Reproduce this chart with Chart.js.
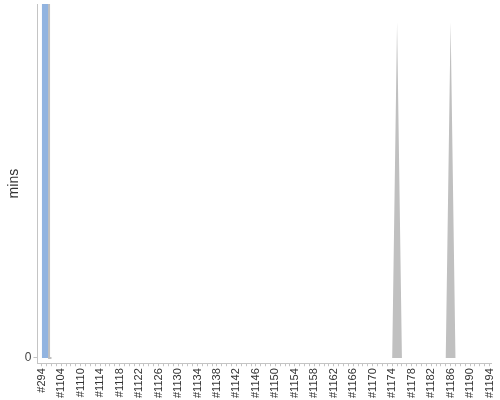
<!DOCTYPE html>
<html>
<head>
<meta charset="utf-8">
<title>Build time trend</title>
<script src="https://cdn.jsdelivr.net/npm/chart.js@4.4.0/dist/chart.umd.min.js"></script>
<style>
    html, body { margin: 0; padding: 0; background: #ffffff; }
    #chartBox { width: 500px; height: 400px; }
</style>
</head>
<body>
<div id="chartBox"><canvas id="buildTimeChart" width="500" height="400"></canvas></div>
<script>
// Build numbers along the x axis (only every 4th one is labelled)
const buildLabels = [
    '#294', '#1101', '#1102', '#1103', '#1104', '#1105', '#1106', '#1108',
    '#1110', '#1111', '#1112', '#1113', '#1114', '#1115', '#1116', '#1117',
    '#1118', '#1119', '#1120', '#1121', '#1122', '#1123', '#1124', '#1125',
    '#1126', '#1127', '#1128', '#1129', '#1130', '#1131', '#1132', '#1133',
    '#1134', '#1135', '#1136', '#1137', '#1138', '#1139', '#1140', '#1141',
    '#1142', '#1143', '#1144', '#1145', '#1146', '#1147', '#1148', '#1149',
    '#1150', '#1151', '#1152', '#1153', '#1154', '#1155', '#1156', '#1157',
    '#1158', '#1159', '#1160', '#1161', '#1162', '#1163', '#1164', '#1165',
    '#1166', '#1167', '#1168', '#1169', '#1170', '#1171', '#1172', '#1173',
    '#1174', '#1175', '#1176', '#1177', '#1178', '#1179', '#1180', '#1181',
    '#1182', '#1183', '#1184', '#1185', '#1186', '#1187', '#1188', '#1189',
    '#1190', '#1191', '#1192', '#1193', '#1194'
];

// Successful builds (blue) - the first two run off the top of the axis
const successMins = [102, 102, 0];

// Aborted / not built (grey)
const abortedMins = [
    0, 0, 0, 0, 0, 0, 0, 0, 0, 0,
    0, 0, 0, 0, 0, 0, 0, 0, 0, 0,
    0, 0, 0, 0, 0, 0, 0, 0, 0, 0,
    0, 0, 0, 0, 0, 0, 0, 0, 0, 0,
    0, 0, 0, 0, 0, 0, 0, 0, 0, 0,
    0, 0, 0, 0, 0, 0, 0, 0, 0, 0,
    0, 0, 0, 0, 0, 0, 0, 0, 0, 0,
    0, 0, 0, 95, 0, 0, 0, 0, 0, 0,
    0, 0, 0, 0, 95, 0, 0, 0, 0, 0,
    0, 0, 0
];

// Only the zero tick is shown on the y axis
const yTickValues = [0];

const AXIS_GREY = '#c4c4c4';
const TEXT_FONT = "'Liberation Sans', Arial, sans-serif";

document.addEventListener('DOMContentLoaded', function() {
    initBuildTimeChart();
});

function toPoints(values) {
    return values.map((v, i) => ({ x: i, y: v }));
}

function initBuildTimeChart() {
    const ctx = document.getElementById('buildTimeChart').getContext('2d');

    const data = {
        datasets: [
            {
                label: 'Success',
                data: toPoints(successMins),
                backgroundColor: '#92b4e0',
                borderColor: '#c0c0c0',
                borderWidth: 2,
                stepped: 'middle',
                pointRadius: 0,
                fill: 'origin'
            },
            {
                label: 'Aborted',
                data: toPoints(abortedMins),
                backgroundColor: '#c0c0c0',
                borderWidth: 0,
                tension: 0,
                pointRadius: 0,
                fill: 'origin'
            }
        ]
    };

    const config = {
        type: 'line',
        data: data,
        options: {
            responsive: false,
            animation: false,
            layout: {
                padding: { top: 4, left: 2, right: 9, bottom: 0 }
            },
            plugins: {
                legend: { display: false },
                tooltip: { enabled: false }
            },
            scales: {
                x: {
                    type: 'linear',
                    min: -0.88,
                    max: 92.3,
                    afterBuildTicks: function(scale) {
                        scale.ticks = buildLabels.map((_, i) => ({ value: i }));
                    },
                    // drop the automatic label overhang, layout padding handles it
                    afterFit: function(scale) {
                        scale.paddingLeft = 0;
                        scale.paddingRight = 0;
                    },
                    grid: {
                        drawOnChartArea: false,
                        drawTicks: true,
                        tickLength: 3,
                        color: AXIS_GREY
                    },
                    border: { color: AXIS_GREY },
                    ticks: {
                        autoSkip: false,
                        minRotation: 90,
                        maxRotation: 90,
                        padding: 2,
                        color: '#333333',
                        font: { family: TEXT_FONT, size: 11 },
                        callback: function(value) {
                            return value % 4 === 0 ? buildLabels[value] : '';
                        }
                    }
                },
                y: {
                    min: -1.5,
                    max: 100,
                    afterBuildTicks: function(scale) {
                        scale.ticks = yTickValues.map(v => ({ value: v }));
                    },
                    afterFit: function(scale) {
                        scale.paddingTop = 0;
                        scale.paddingBottom = 0;
                    },
                    grid: {
                        drawOnChartArea: false,
                        drawTicks: true,
                        tickLength: 4,
                        color: AXIS_GREY
                    },
                    border: { color: AXIS_GREY },
                    ticks: {
                        padding: 2,
                        color: '#444444',
                        font: { family: TEXT_FONT, size: 12 }
                    },
                    title: {
                        display: true,
                        text: 'mins',
                        color: '#333333',
                        padding: { top: 4, bottom: 0 },
                        font: { family: TEXT_FONT, size: 14 }
                    }
                }
            }
        }
    };

    new Chart(ctx, config);
}
</script>
</body>
</html>
